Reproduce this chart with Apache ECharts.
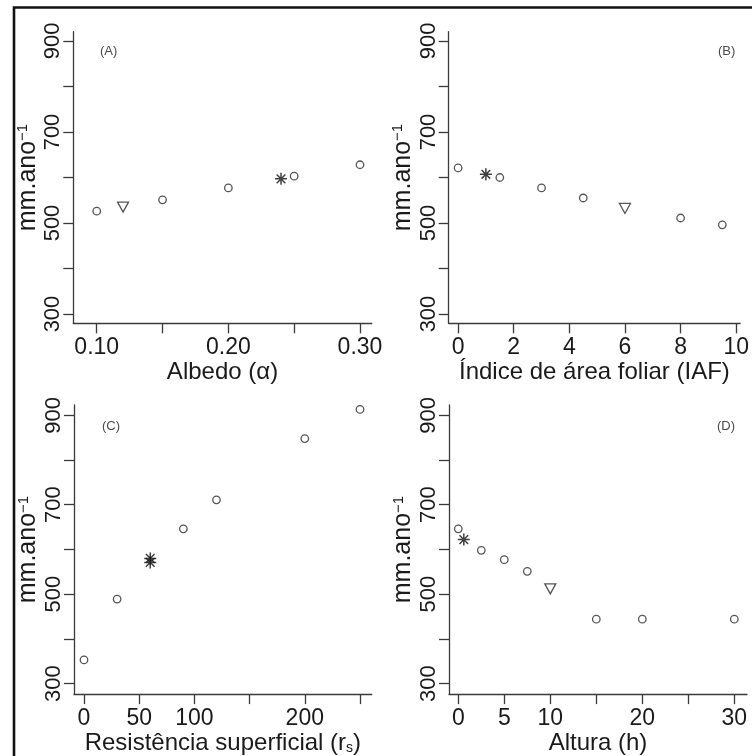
<!DOCTYPE html>
<html>
<head>
<meta charset="utf-8">
<script src="https://cdn.jsdelivr.net/npm/echarts@6/dist/echarts.min.js"></script>
<style>html,body{margin:0;padding:0;background:#fff;}#c{width:752px;height:756px;}</style>
</head>
<body>
<div id="c"></div>
<script>
// ---- Data ----
// Panel A: Albedo
const aCircX = [0.10, 0.15, 0.20, 0.25, 0.30];
const aCircY = [526, 551, 577, 603, 628];
const aTriX = [0.12];
const aTriY = [535];
const aStarX = [0.24];
const aStarY = [597];
// Panel B: Índice de área foliar
const bCircX = [0, 1.5, 3, 4.5, 8, 9.5];
const bCircY = [621, 600, 577, 555, 511, 496];
const bTriX = [6];
const bTriY = [532];
const bStarX = [1];
const bStarY = [607];
// Panel C: Resistência superficial
const cCircX = [0, 30, 90, 120, 200, 250];
const cCircY = [353, 489, 646, 711, 848, 913];
const cTriX = [];
const cTriY = [];
const cStarX = [60, 60];
const cStarY = [580, 571];
// Panel D: Altura
const dCircX = [0, 2.5, 5, 7.5, 15, 20, 30];
const dCircY = [646, 598, 577, 551, 444, 444, 444];
const dTriX = [10];
const dTriY = [512];
const dStarX = [0.6];
const dStarY = [622];

// Tick values and labels
const aTicks = [0.10, 0.15, 0.20, 0.25, 0.30];
const aLabels = [0.10, 0.20, 0.30];
const bTicks = [0, 2, 4, 6, 8, 10];
const bLabels = [0, 2, 4, 6, 8, 10];
const cTicks = [0, 50, 100, 150, 200, 250];
const cLabels = [0, 50, 100, 200];
const dTicks = [0, 5, 10, 15, 20, 25, 30];
const dLabels = [0, 5, 10, 20, 30];
const yTicks = [300, 400, 500, 600, 700, 800, 900];
const yLabels = [300, 500, 700, 900];

const panelTags = ['(A)', '(B)', '(C)', '(D)'];
const xTitles = [
  'Albedo (α)',
  'Índice de área foliar (IAF)',
  '{t|Resistência superficial (r}{s|s}{t|)}',
  'Altura (h)'
];
const yTitle = '{t|mm.ano}{p|−1}';

// ---- Styling ----
const FONT = "'Liberation Sans', Arial, sans-serif";
const TXT = '#1a1a1a';
const AX = '#3a3a3a';
const FSX = 23;   // x tick labels
const FSY = 22;   // y tick labels
const FST = 24;   // axis titles
const FSN = 25;   // y title

const grids = [
  {left: 73.3, top: 31.7, width: 298.4, height: 291.6},
  {left: 448.7, top: 31.7, width: 298, height: 291.6},
  {left: 74, top: 405, width: 297.7, height: 294},
  {left: 449, top: 405, width: 298, height: 294}
];
const xRanges = [[0.0822, 0.3089], [-0.338, 10.14], [-9.06, 260.6], [-1.01, 31.38]];
const yRanges = [[279.6, 920.4], [279.6, 920.4], [276.5, 923], [276.5, 923]];
const xTickSets = [aTicks, bTicks, cTicks, dTicks];
const xLabelSets = [aLabels, bLabels, cLabels, dLabels];
const xFmt = [v => Number(v).toFixed(2), v => String(v), v => String(v), v => String(v)];

const circ = [[aCircX, aCircY], [bCircX, bCircY], [cCircX, cCircY], [dCircX, dCircY]];
const tri = [[aTriX, aTriY], [bTriX, bTriY], [cTriX, cTriY], [dTriX, dTriY]];
const star = [[aStarX, aStarY], [bStarX, bStarY], [cStarX, cStarY], [dStarX, dStarY]];
const zip = (xs, ys) => xs.map((x, i) => [x, ys[i]]);

const STAR_PATH = 'path://M0,-1L0,1M-1,0L1,0M-0.72,-0.72L0.72,0.72M-0.72,0.72L0.72,-0.72';
const TRI_PATH = 'path://M0,0L2,0L1,1.732Z';

const xAxes = [], yAxes = [], series = [];
for (let i = 0; i < 4; i++) {
  xAxes.push({
    type: 'value', gridIndex: i,
    min: xRanges[i][0], max: xRanges[i][1],
    name: xTitles[i], nameLocation: 'middle', nameGap: 32,
    nameTextStyle: {
      fontFamily: FONT, fontSize: FST, color: TXT,
      rich: {t: {fontFamily: FONT, fontSize: FST, color: TXT}, s: {fontFamily: FONT, fontSize: 14, color: TXT, verticalAlign: 'bottom'}}
    },
    axisLine: {show: true, onZero: false, lineStyle: {color: AX, width: 1.3}},
    axisTick: {show: true, length: 10, customValues: xTickSets[i], lineStyle: {color: AX, width: 1.3}},
    axisLabel: {show: true, customValues: xLabelSets[i], formatter: xFmt[i], margin: 13,
      fontFamily: FONT, fontSize: FSX, color: TXT, hideOverlap: false, showMinLabel: true, showMaxLabel: true},
    splitLine: {show: false}
  });
  yAxes.push({
    type: 'value', gridIndex: i,
    min: yRanges[i][0], max: yRanges[i][1],
    name: yTitle, nameLocation: 'middle', nameGap: 33, nameRotate: 90,
    nameTextStyle: {
      fontFamily: FONT, fontSize: FSN, color: TXT,
      rich: {t: {fontFamily: FONT, fontSize: FSN, color: TXT}, p: {fontFamily: FONT, fontSize: 15, color: TXT, verticalAlign: 'top'}}
    },
    axisLine: {show: true, onZero: false, lineStyle: {color: AX, width: 1.3}},
    axisTick: {show: true, length: 10, customValues: yTicks, lineStyle: {color: AX, width: 1.3}},
    axisLabel: {show: true, customValues: yLabels, rotate: 90, margin: 9,
      fontFamily: FONT, fontSize: FSY, color: TXT, showMinLabel: true, showMaxLabel: true},
    splitLine: {show: false}
  });
  series.push({
    type: 'scatter', xAxisIndex: i, yAxisIndex: i,
    data: zip(circ[i][0], circ[i][1]),
    symbol: 'circle', symbolSize: 7.5,
    itemStyle: {color: '#fff', borderColor: '#2a2a2a', borderWidth: 1.3}
  });
  series.push({
    type: 'scatter', xAxisIndex: i, yAxisIndex: i,
    data: zip(tri[i][0], tri[i][1]),
    symbol: TRI_PATH, symbolSize: [11, 10],
    itemStyle: {color: '#fff', borderColor: '#2a2a2a', borderWidth: 1.3}
  });
  series.push({
    type: 'scatter', xAxisIndex: i, yAxisIndex: i,
    data: zip(star[i][0], star[i][1]),
    symbol: STAR_PATH, symbolSize: 12,
    itemStyle: {color: '#111', borderColor: '#111', borderWidth: 1.5}
  });
}

const tagPos = [[109, 53], [727, 53], [111, 428], [726, 428]];

const chart = echarts.init(document.getElementById('c'), null, {renderer: 'canvas'});
chart.setOption({
  animation: false,
  backgroundColor: '#fff',
  grid: grids,
  xAxis: xAxes,
  yAxis: yAxes,
  series: series,
  graphic: [{
    type: 'rect', silent: true,
    shape: {x: 14, y: 7.5, width: 1000, height: 1000},
    style: {fill: 'none', stroke: '#111', lineWidth: 2.6}
  }],
  title: panelTags.map((t, i) => ({
    text: t, left: tagPos[i][0] - 9, top: tagPos[i][1] - 8,
    textStyle: {fontFamily: FONT, fontSize: 13, fontWeight: 'normal', color: '#4a4a4a'},
    padding: 0
  }))
});
</script>
</body>
</html>
